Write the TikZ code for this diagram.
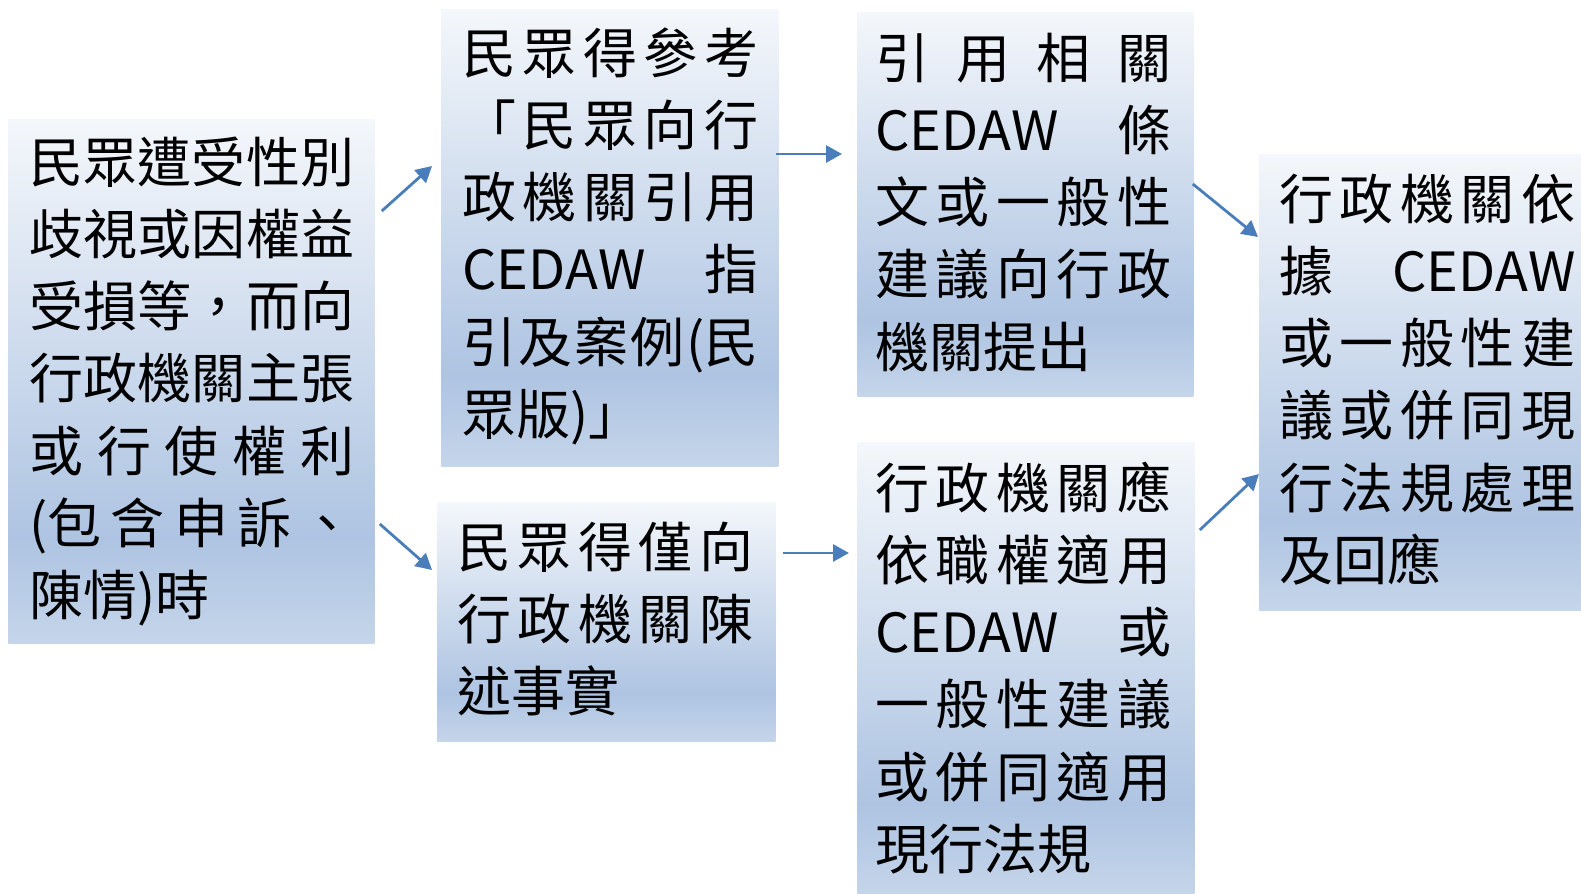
\documentclass[tikz,border=0pt]{standalone}
\usepackage{fontspec}
\newfontfamily\cjk{Noto Sans CJK TC}
\usetikzlibrary{arrows.meta,calc}
\definecolor{gtop}{HTML}{F4F7FB}
\definecolor{gdark}{HTML}{AEC4E2}
\definecolor{gbot}{HTML}{C5D5EA}
\definecolor{arrowblue}{HTML}{4A7EBB}
\pgfdeclareverticalshading{pptgrad}{100bp}{color(0bp)=(gbot); color(25bp)=(gbot); color(35bp)=(gdark); color(75bp)=(gtop); color(100bp)=(gtop)}
\newcommand\jl[1]{\makebox[\linewidth][s]{#1}}
\begin{document}
\begin{tikzpicture}[x=0.5pt,y=-0.5pt,
  box/.style={rectangle, draw=none, shade, shading=pptgrad, inner sep=0pt, anchor=north west},
  txt/.style={inner sep=0pt, anchor=base west, align=left, text width=148pt,
    font=\cjk\fontsize{27pt}{36.15pt}\selectfont, text=black},
  arr/.style={draw=arrowblue, line width=1.4pt, -{Triangle[length=8pt,width=8.5pt]}}]
\useasboundingbox (0,0) rectangle (1581,894);

% boxes
\node[box, minimum width=183pt, minimum height=262pt] (b1) at (8,119) {};
\node[box, minimum width=168.5pt, minimum height=228.5pt] (b2) at (441,9) {};
\node[box, minimum width=169pt, minimum height=119.5pt] (b3) at (437,502) {};
\node[box, minimum width=168pt, minimum height=192pt] (b4) at (857,12) {};
\node[box, minimum width=168.5pt, minimum height=226pt] (b5) at (857,442) {};
\node[box, minimum width=161pt, minimum height=228pt] (b6) at (1259,154) {};

% texts
\node[txt, text width=162.5pt] (t1) at (29,182) {%
\jl{民\hfil 眾\hfil 遭\hfil 受\hfil 性\hfil 別}\\
\jl{歧\hfil 視\hfil 或\hfil 因\hfil 權\hfil 益}\\
\jl{受\hfil 損\hfil 等\hfil ，\hfil 而\hfil 向}\\
\jl{行\hfil 政\hfil 機\hfil 關\hfil 主\hfil 張}\\
\jl{或\hfil 行\hfil 使\hfil 權\hfil 利}\\
\jl{(包\hfil 含\hfil 申\hfil 訴\hfil 、}\\
陳情)時};

\node[txt] (t2) at (462,73) {%
\jl{民\hfil 眾\hfil 得\hfil 參\hfil 考}\\
\jl{「\hfil 民\hfil 眾\hfil 向\hfil 行}\\
\jl{政\hfil 機\hfil 關\hfil 引\hfil 用}\\
\jl{CEDAW\hfil 指}\\
\jl{引\hfil 及\hfil 案\hfil 例\hfil (民}\\
眾版)」};

\node[txt] (t3) at (457,567) {%
\jl{民\hfil 眾\hfil 得\hfil 僅\hfil 向}\\
\jl{行\hfil 政\hfil 機\hfil 關\hfil 陳}\\
述事實};

\node[txt] (t4) at (875,78) {%
\jl{引\hfil 用\hfil 相\hfil 關}\\
\jl{CEDAW\hfil 條}\\
\jl{文\hfil 或\hfil 一\hfil 般\hfil 性}\\
\jl{建\hfil 議\hfil 向\hfil 行\hfil 政}\\
機關提出};

\node[txt] (t5) at (875,508) {%
\jl{行\hfil 政\hfil 機\hfil 關\hfil 應}\\
\jl{依\hfil 職\hfil 權\hfil 適\hfil 用}\\
\jl{CEDAW\hfil 或}\\
\jl{一\hfil 般\hfil 性\hfil 建\hfil 議}\\
\jl{或\hfil 併\hfil 同\hfil 適\hfil 用}\\
現行法規};

\node[txt] (t6) at (1279,219) {%
\jl{行\hfil 政\hfil 機\hfil 關\hfil 依}\\
\jl{據\hfil CEDAW}\\
\jl{或\hfil 一\hfil 般\hfil 性\hfil 建}\\
\jl{議\hfil 或\hfil 併\hfil 同\hfil 現}\\
\jl{行\hfil 法\hfil 規\hfil 處\hfil 理}\\
及回應};

% arrows
\draw[arr] ($(b1.north east)+(7,92)$) -- ($(b2.north west)+(-9,157)$);
\draw[arr] ($(b1.north east)+(5,405)$) -- ($(b3.north west)+(-5,68)$);
\draw[arr] ($(b2.north east)+(-3,145)$) -- ($(b4.north west)+(-15,142)$);
\draw[arr] ($(b3.north east)+(7,51)$) -- ($(b5.north west)+(-8,111)$);
\draw[arr] ($(b4.north east)+(-1,172)$) -- ($(b6.north west)+(-1,83)$);
\draw[arr] ($(b5.north east)+(5,88)$) -- ($(b6.north west)+(0,320)$);
\end{tikzpicture}
\end{document}
